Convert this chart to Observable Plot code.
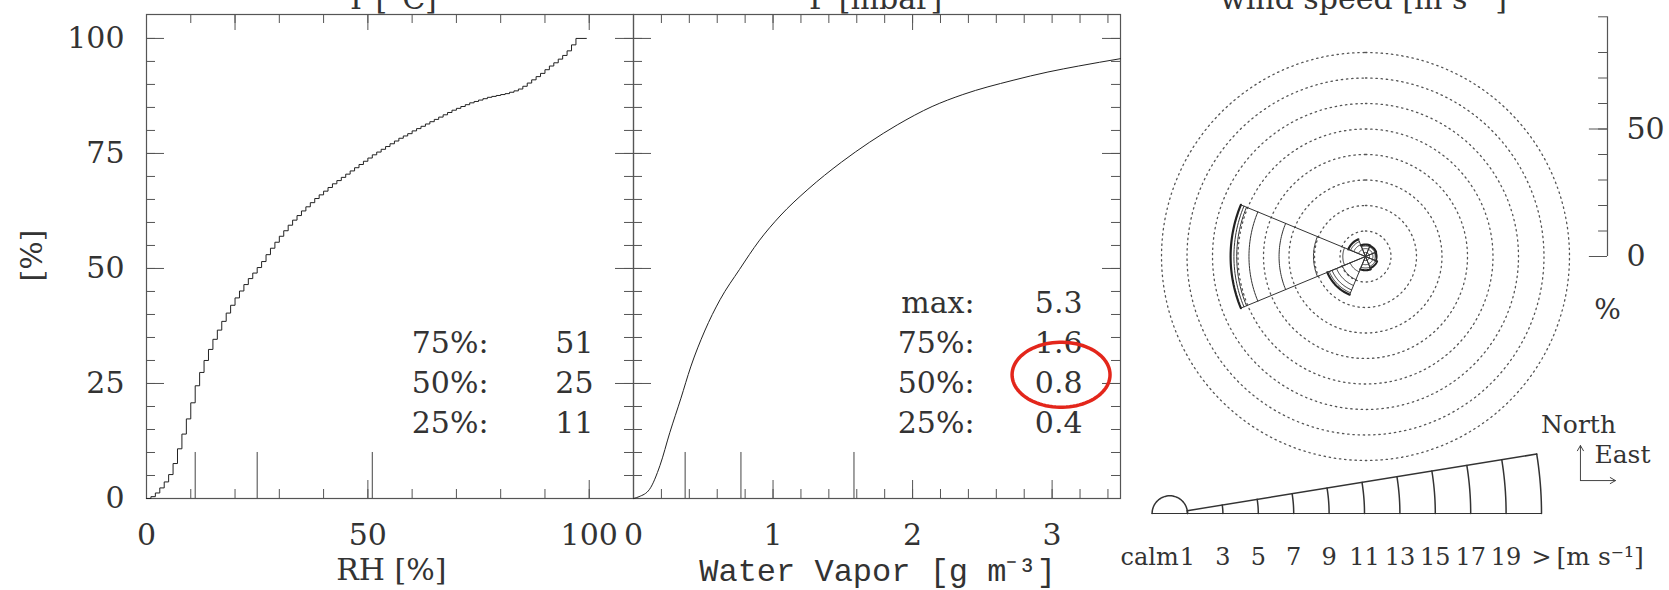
<!DOCTYPE html>
<html><head><meta charset="utf-8">
<script src="https://cdn.jsdelivr.net/npm/d3@7"></script>
<script src="https://cdn.jsdelivr.net/npm/@observablehq/plot@0.6"></script>
<style>
html,body{margin:0;padding:0;background:#fff;overflow:hidden}
#wrap{position:relative;width:1669px;height:590px;overflow:hidden;background:#fff}
</style></head><body><div id="wrap"></div>
<script>
// ---------------- DATA ----------------
// Panel 1: cumulative distribution of RH [%]
const rhPct = [0,1,2,3,4,5,6,7,8,9,10,11,12,13,14,15,16,17,18,19,20,21,22,23,24,25,26,27,28,29,30,31,32,33,34,35,36,37,38,39,40,41,42,43,44,45,46,47,48,49,50,51,52,53,54,55,56,57,58,59,60,61,62,63,64,65,66,67,68,69,70,71,72,73,74,75,76,77,78,79,80,81,82,83,84,85,86,87,88,89,90,91,92,93,94,95,96,97,99.4];
const rhCum = [0,0.4,1.2,2.3,3.6,5.2,7.6,10.8,14.0,17.3,20.8,24.5,27.4,30.0,32.4,34.6,36.6,38.5,40.3,42.0,43.6,45.1,46.5,47.8,49.0,50.2,51.5,53.0,54.4,55.7,57.0,58.2,59.4,60.5,61.5,62.5,63.4,64.3,65.2,66.0,66.8,67.6,68.4,69.1,69.8,70.5,71.2,71.9,72.6,73.3,74.0,74.7,75.3,75.9,76.5,77.1,77.7,78.3,78.8,79.3,79.9,80.4,80.9,81.4,81.9,82.4,82.9,83.4,83.9,84.4,84.8,85.2,85.6,86.0,86.3,86.6,86.9,87.2,87.4,87.6,87.8,88.0,88.3,88.6,89.0,89.6,90.3,91.0,91.7,92.4,93.2,94.0,94.7,95.5,96.3,97.3,98.6,100,100];
const quartLevels = [25, 50, 75];
const rhQuartiles = [11, 25, 51];

// Panel 2: cumulative distribution of water vapour [g m^-3]
const wvX = [0,0.04,0.115,0.19,0.26,0.34,0.41,0.51,0.62,0.76,0.90,1.05,1.25,1.49,1.69,1.89,2.14,2.36,2.72,2.97,3.19,3.49];
const wvCum = [0,0.4,2.0,7.2,14.3,21.8,28.6,36.4,43.2,49.8,56.0,61.4,67.2,73.1,77.4,81.2,85.2,87.8,90.9,92.7,94.0,95.6];
const wvQuartiles = [0.37, 0.77, 1.58];
const wvMax = 5.3;

// Axis ticks
const pctMajor = [0, 25, 50, 75, 100];
const pctMinor = d3.range(0, 101, 5);
const rhMajorTicks = [0, 50, 100];
const rhMinorTicks = d3.range(0, 101, 10);
const rhTopLong = [20, 50, 100];
const wvMajorTicks = [0, 1, 2, 3];
const wvMinorTicks = d3.range(0, 3.41, 0.2).map(v => +v.toFixed(1));
const wvTopLong = [1, 2];

// Wind rose: frequency [%] per speed class, by direction
const roseDirs = ["N","NE","E","SE","S","SW","W","NW"];
const roseBearing = [0,45,90,135,180,225,270,315];
const roseN  = [1.6, 1.5, 1.0, 0.6];
const roseNE = [1.6, 1.4, 1.0, 0.5];
const roseE  = [1.6, 1.3, 0.9, 0.5];
const roseSE = [1.6, 1.5, 1.1, 0.7];
const roseS  = [1.6, 1.6, 1.3, 0.9];
const roseSW = [6.5, 3.3, 2.5, 1.9, 1.2, 0.8];
const roseW  = [8.9, 11.5, 13.5, 11.8, 4.8, 1.1, 1.3];
const roseNW = [3.0, 2.0, 1.3, 1.0];
const roseRings = [10,20,30,40,50,60,70,80];
const roseScaleTicks = [0,10,20,30,40,50,60,70,80];
const roseScaleLabels = [0, 50];
const roseScaleTop = 94;

// Speed legend
const legSpeeds = [1,3,5,7,9,11,13,15,17,19,21];
const legLabels = ["1","3","5","7","9","11","13","15","17","19",">"];

// ---------------- DRAWING ----------------
const W = 1669, H = 590;
const SERIF = "DejaVu Serif";
const INK = "#333";
const LINE = "#555";
const wrap = document.getElementById("wrap");
function mount(svg) {
  svg.style.position = "absolute"; svg.style.left = "0"; svg.style.top = "0";
  svg.style.background = "transparent"; svg.style.overflow = "visible"; svg.style.maxWidth = "none";
  wrap.appendChild(svg);
}
const T = (data, o) => Plot.text(data, {fontFamily: SERIF, fontSize: 30, fill: INK, ...o});
const rad = a => a * Math.PI / 180;

// Panel frame geometry
const FT = 14, FB = 498; const FH = FB - FT;
function ticksFor(fw, xMinor, xMajor, xTopLong) {
  return [
    Plot.frame({stroke: LINE, strokeWidth: 1.2}),
    Plot.tickY(pctMinor, {y: d => d, stroke: LINE, insetRight: fw - 9}),
    Plot.tickY(pctMajor, {y: d => d, stroke: LINE, insetRight: fw - 18}),
    Plot.tickY(pctMinor, {y: d => d, stroke: LINE, insetLeft: fw - 9}),
    Plot.tickY(pctMajor, {y: d => d, stroke: LINE, insetLeft: fw - 18}),
    Plot.tickX(xMinor, {x: d => d, stroke: LINE, insetTop: FH - 9}),
    Plot.tickX(xMajor, {x: d => d, stroke: LINE, insetTop: FH - 18}),
    Plot.tickX(xMinor, {x: d => d, stroke: LINE, insetBottom: FH - 9}),
    Plot.tickX(xTopLong, {x: d => d, stroke: LINE, insetBottom: FH - 16})
  ];
}

// ---- Panel 1 ----
const rhSeries = rhPct.map((x, i) => ({x, y: rhCum[i]}));
const rhRows = quartLevels.map((q, i) => ({label: q + "%:", value: String(rhQuartiles[i])})).reverse();
mount(Plot.plot({
  width: W, height: H,
  marginLeft: 146, marginRight: W - 633, marginTop: FT, marginBottom: H - FB,
  x: {domain: [0, 110], axis: null},
  y: {domain: [0, 105.2], axis: null},
  marks: [
    ...ticksFor(487, rhMinorTicks, rhMajorTicks, rhTopLong),
    Plot.ruleX(rhQuartiles, {x: d => d, y1: 0, y2: 10, stroke: "#444", strokeWidth: 1}),
    Plot.line(rhSeries, {x: "x", y: "y", curve: "step-after", stroke: "#222", strokeWidth: 1}),
    T(pctMajor, {x: 0, y: d => d, text: d => String(d), textAnchor: "end", dx: -22}),
    T(rhMajorTicks, {x: d => d, y: 0, text: d => String(d), dy: 37}),
    T(["RH [%]"], {x: 55.3, y: 0, dy: 72}),
    T(["[%]"], {x: 0, y: 52.8, dx: -114, rotate: -90}),
    T(["T [°C]"], {x: 55.3, y: 105.2, dy: -15}),
    T(rhRows, {x: 77.25, y: (d, i) => 33.8 - 8.7 * i, text: "label", textAnchor: "end"}),
    T(rhRows, {x: 100.97, y: (d, i) => 33.8 - 8.7 * i, text: "value", textAnchor: "end"})
  ]
}));

// ---- Panel 2 ----
const wvSeries = wvX.map((x, i) => ({x, y: wvCum[i]}));
const fmt1 = d3.format(".1f");
const wvRows = [{label: "max:", value: fmt1(wvMax)}].concat(
  quartLevels.map((q, i) => ({label: q + "%:", value: fmt1(wvQuartiles[i])})).reverse());
const ell = {cx: 3.064, cy: 26.9, rx: 0.351, ry: 7.07};
const ellPts = d3.range(0, 360, 4).map(a => ({x: ell.cx + ell.rx * Math.cos(rad(a)), y: ell.cy + ell.ry * Math.sin(rad(a))}));
mount(Plot.plot({
  width: W, height: H,
  marginLeft: 633, marginRight: W - 1120, marginTop: FT, marginBottom: H - FB,
  x: {domain: [0, 3.49], axis: null},
  y: {domain: [0, 105.2], axis: null},
  marks: [
    ...ticksFor(487, wvMinorTicks, wvMajorTicks, wvTopLong),
    Plot.ruleX(wvQuartiles, {x: d => d, y1: 0, y2: 10, stroke: "#444", strokeWidth: 1}),
    Plot.line(wvSeries, {x: "x", y: "y", curve: "monotone-x", stroke: "#222", strokeWidth: 1}),
    T(wvMajorTicks, {x: d => d, y: 0, text: d => String(d), dy: 37}),
    Plot.text(["Water Vapor [g m⁻³]"], {x: 1.749, y: 0, dy: 71.8, fontFamily: "Liberation Mono", fontSize: 32, fill: INK}),
    T(["P [mbar]"], {x: 1.735, y: 105.2, dy: -15}),
    T(wvRows, {x: 2.444, y: (d, i) => 42.3 - 8.65 * i, text: "label", textAnchor: "end"}),
    T(wvRows, {x: 3.218, y: (d, i) => 42.3 - 8.65 * i, text: "value", textAnchor: "end"}),
    Plot.line(ellPts, {x: "x", y: "y", curve: "linear-closed", stroke: "#e3261b", strokeWidth: 3.5})
  ]
}));

// ---- Wind rose ----
const roseFreq = [roseN, roseNE, roseE, roseSE, roseS, roseSW, roseW, roseNW];
const ringPts = roseRings.flatMap(r => d3.range(0, 361, 2).map(a => ({r, x: r * Math.sin(rad(a)), y: r * Math.cos(rad(a))})));
const arcPts = [], sides = [];
roseDirs.forEach((d, i) => {
  const b = roseBearing[i];
  const cum = Array.from(d3.cumsum(roseFreq[i]));
  cum.forEach((r, k) => {
    const outer = k === cum.length - 1;
    d3.range(b - 22.5, b + 22.51, 1.5).forEach(a => arcPts.push({key: d + k, outer, x: r * Math.sin(rad(a)), y: r * Math.cos(rad(a))}));
  });
  const R = cum[cum.length - 1];
  [b - 22.5, b + 22.5].forEach(a => sides.push({x2: R * Math.sin(rad(a)), y2: R * Math.cos(rad(a))}));
});
const SX = 94.9;
mount(Plot.plot({
  width: W, height: H,
  marginLeft: 1110, marginRight: 49, marginTop: 1, marginBottom: 79,
  x: {domain: [-100, 100], axis: null},
  y: {domain: [-100, 100], axis: null},
  marks: [
    Plot.line(ringPts, {x: "x", y: "y", z: "r", stroke: "#555", strokeWidth: 1.3, strokeDasharray: "1.4,3.8"}),
    Plot.line(arcPts.filter(p => !p.outer), {x: "x", y: "y", z: "key", stroke: "#333", strokeWidth: 1}),
    Plot.line(arcPts.filter(p => p.outer), {x: "x", y: "y", z: "key", stroke: "#222", strokeWidth: 2.2}),
    Plot.link(sides, {x1: 0, y1: 0, x2: "x2", y2: "y2", stroke: "#333", strokeWidth: 1}),
    Plot.ruleX([SX], {y1: 0, y2: roseScaleTop, stroke: LINE, strokeWidth: 1.2}),
    Plot.ruleY(roseScaleTicks.concat([roseScaleTop]), {y: d => d, x1: SX - 3.5, x2: SX, stroke: LINE}),
    Plot.ruleY(roseScaleLabels, {y: d => d, x1: SX - 7.1, x2: SX, stroke: LINE}),
    T(roseScaleLabels, {x: SX, y: d => d, text: d => String(d), textAnchor: "start", dx: 19}),
    T(["%"], {x: SX, y: -20.8, fontSize: 28}),
    T(["wind speed [m s⁻¹]"], {x: -0.8, y: 100.8})
  ]
}));

// ---- Speed legend ----
const theta = rad(9.2);
const legArcs = legSpeeds.flatMap(s => d3.range(0, 1.0001, 0.1).map(t => ({s, x: s * Math.cos(t * theta), y: s * Math.sin(t * theta)})));
const legEdge = [legSpeeds[0], legSpeeds[legSpeeds.length - 1]].map(s => ({x: s * Math.cos(theta), y: s * Math.sin(theta)}));
const calmPts = d3.range(0, 181, 5).map(a => ({x: legSpeeds[0] * Math.cos(rad(a)), y: legSpeeds[0] * Math.sin(rad(a))}));
const compass = [{x1: 23.2, y1: 1.86, x2: 23.2, y2: 3.84}, {x1: 23.2, y1: 1.86, x2: 25.18, y2: 1.86}];
mount(Plot.plot({
  width: W, height: H,
  marginLeft: 1169.3, marginRight: 128, marginTop: 336, marginBottom: 77,
  x: {domain: [0, 21], axis: null},
  y: {domain: [0, 10], axis: null},
  marks: [
    Plot.ruleY([0], {x1: -legSpeeds[0], x2: legSpeeds[legSpeeds.length - 1], stroke: "#333"}),
    Plot.line(calmPts, {x: "x", y: "y", stroke: "#333"}),
    Plot.line(legArcs, {x: "x", y: "y", z: "s", stroke: "#333"}),
    Plot.line(legEdge, {x: "x", y: "y", stroke: "#333"}),
    T(legSpeeds, {x: d => d, y: -2.45, text: (d, i) => legLabels[i], fontSize: 24}),
    T(["calm"], {x: 0.5, y: -2.45, textAnchor: "end", fontSize: 24}),
    T(["[m s⁻¹]"], {x: 21.85, y: -2.45, textAnchor: "start", fontSize: 25}),
    Plot.arrow(compass, {x1: "x1", y1: "y1", x2: "x2", y2: "y2", stroke: "#444", strokeWidth: 1, headLength: 9}),
    T(["North"], {x: 23.09, y: 4.99, fontSize: 25}),
    T(["East"], {x: 23.99, y: 3.30, textAnchor: "start", fontSize: 25})
  ]
}));
</script></body></html>
